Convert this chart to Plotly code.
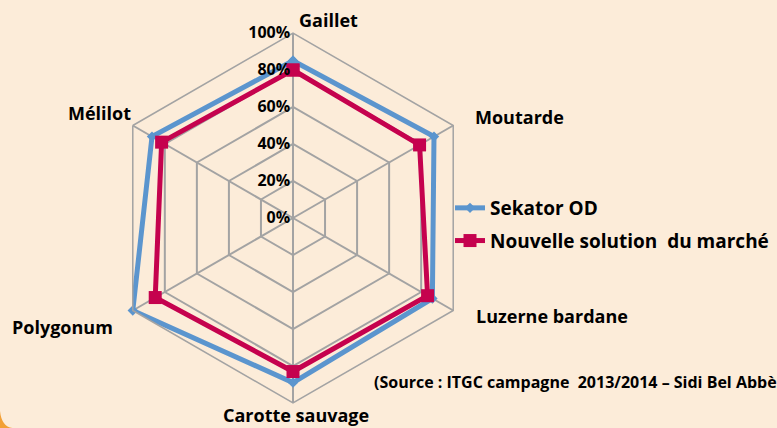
import plotly.graph_objects as go

categories = ["Gaillet", "Moutarde", "Luzerne bardane", "Carotte sauvage", "Polygonum", "Mélilot"]
sekator = [85, 88, 87, 89, 100, 88]
nouvelle = [80, 79, 84, 83, 86, 82]
series_names = ["Sekator OD", "Nouvelle solution\u00a0 du marché"]
radial_ticks = [0, 20, 40, 60, 80, 100]
radial_labels = ["0%", "20%", "40%", "60%", "80%", "100%"]
source_text = "(Source : ITGC campagne\u00a0 2013/2014 – Sidi Bel Abbès)"

W, H = 777, 428
BLUE = "#5B95CE"
RED = "#C5024E"
GRID = "#A3A3A3"
FONT = "Open Sans"


def close(vals):
    return list(vals) + [vals[0]]


fig = go.Figure()
fig.add_trace(
    go.Scatterpolar(
        r=close(sekator),
        theta=close(categories),
        name=series_names[0],
        legendgroup="a",
        mode="lines+markers",
        line=dict(color=BLUE, width=5),
        marker=dict(symbol="diamond", size=8, color=BLUE),
    )
)
fig.add_trace(
    go.Scatterpolar(
        r=close(nouvelle),
        theta=close(categories),
        name=series_names[1],
        legendgroup="b",
        mode="lines+markers",
        line=dict(color=RED, width=5),
        marker=dict(symbol="square", size=13, color=RED),
    )
)

# polar area: centre (293, 218) px, radius 185 px
cx, cy, rad = 293, 218, 185
fig.update_layout(
    width=W,
    height=H,
    margin=dict(l=0, r=0, t=0, b=0),
    paper_bgcolor="#FCECD9",
    plot_bgcolor="#FCECD9",
    font=dict(family=FONT, color="black", size=16, weight="bold"),
    polar=dict(
        domain=dict(
            x=[(cx - rad) / W, (cx + rad) / W],
            y=[(H - cy - rad) / H, (H - cy + rad) / H],
        ),
        bgcolor="rgba(0,0,0,0)",
        gridshape="linear",
        radialaxis=dict(
            range=[0, 100],
            tickvals=radial_ticks,
            ticktext=radial_labels,
            angle=90,
            tickangle=90,
            side="counterclockwise",
            showline=False,
            ticks="",
            gridcolor=GRID,
            gridwidth=1.5,
            tickfont=dict(family=FONT, size=16, color="black", weight="bold"),
        ),
        angularaxis=dict(
            rotation=90,
            direction="clockwise",
            showticklabels=False,
            ticks="",
            showline=True,
            linecolor=GRID,
            linewidth=1.5,
            gridcolor=GRID,
            gridwidth=1.5,
        ),
    ),
    legend=dict(
        x=450 / W,
        y=1 - 189 / H,
        xanchor="left",
        yanchor="top",
        bgcolor="rgba(0,0,0,0)",
        font=dict(family=FONT, size=19, color="black", weight="bold"),
        tracegroupgap=5,
    ),
)

# category labels
label_pos = [(328, 20), (519, 117), (552, 316), (296, 415), (62, 327), (99, 113)]
for name, (lx, ly) in zip(categories, label_pos):
    fig.add_annotation(
        x=lx / W, y=1 - ly / H, xref="paper", yref="paper",
        text=name, showarrow=False, xanchor="center", yanchor="middle",
        font=dict(family=FONT, size=18, color="black", weight="bold"),
    )

fig.add_annotation(
    x=372 / W, y=1 - 382 / H, xref="paper", yref="paper",
    text=source_text, showarrow=False, xanchor="left", yanchor="middle",
    font=dict(family=FONT, size=16, color="black", weight="bold"),
)

# orange frame corner bottom-left
fig.add_shape(
    type="path", xref="paper", yref="paper",
    path="M 0,0.04 Q 0.002,0.004 0.016,0 L 0,0 Z",
    fillcolor="#F2A036", line=dict(width=0),
)

fig.write_html(
    "out.html",
    config={"displayModeBar": False},
    post_script="document.body.style.margin='0';",
)
